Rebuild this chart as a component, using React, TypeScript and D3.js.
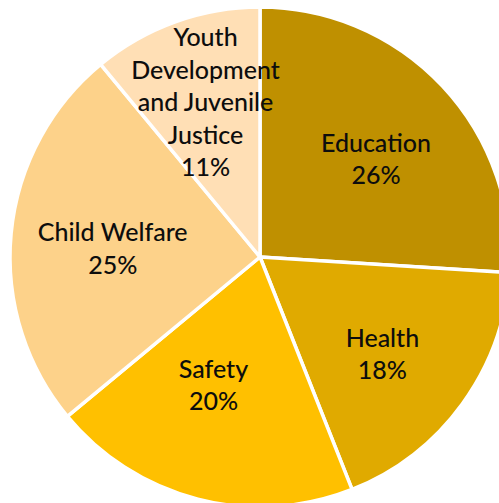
import React from "react";
import * as d3 from "d3";

const categories = ["Education", "Health", "Safety", "Child Welfare", "Youth Development and Juvenile Justice"];
const values = [26, 18, 20, 25, 11];
const labelLines = [
  ["Education", "26%"],
  ["Health", "18%"],
  ["Safety", "20%"],
  ["Child Welfare", "25%"],
  ["Youth", "Development", "and Juvenile", "Justice", "11%"],
];
const colors = ["#BF9000", "#E0AA00", "#FFC000", "#FDD28A", "#FFDFB5"];
// small label nudges (px) relative to the arc label position
const labelNudges: [number, number][] = [
  [3, 7],
  [-3, 5],
  [-8, -23],
  [7, 5],
  [-2, -10],
];

const W = 499;
const H = 503;
const cx = 260;
const cy = 257;
const R = 250;
const labelR = 155;
const lineH = 32.5;

export default function App() {
  const data = categories.map((c, i) => ({ c, v: values[i], i }));
  const pie = d3.pie<any>().value((d) => d.v).sort(null);
  const arcs = pie(data);
  const arc = d3.arc<any>().innerRadius(0).outerRadius(R);
  const labelArc = d3.arc<any>().innerRadius(labelR).outerRadius(labelR);

  return (
    <svg
      width={W}
      height={H}
      style={{ position: "absolute", left: 0, top: 0, background: "#fff" }}
    >
      <g transform={`translate(${cx},${cy})`}>
        {arcs.map((a, i) => (
          <path key={i} d={arc(a) as string} fill={colors[i]} stroke="#fff" strokeWidth={3.5} strokeLinejoin="round" />
        ))}
        {arcs.map((a, i) => {
          const [x0, y0] = labelArc.centroid(a);
          const x = x0 + labelNudges[i][0];
          const y = y0 + labelNudges[i][1];
          const lines = labelLines[i];
          const startY = y - ((lines.length - 1) * lineH) / 2;
          return (
            <text
              key={"t" + i}
              textAnchor="middle"
              fontFamily="Lato, 'Open Sans', sans-serif"
              fontSize={25}
              fontWeight={500}
              fill="#0d0d0d"
            >
              {lines.map((l, j) => (
                <tspan key={j} x={x} y={startY + j * lineH} dominantBaseline="central">
                  {l}
                </tspan>
              ))}
            </text>
          );
        })}
      </g>
    </svg>
  );
}
